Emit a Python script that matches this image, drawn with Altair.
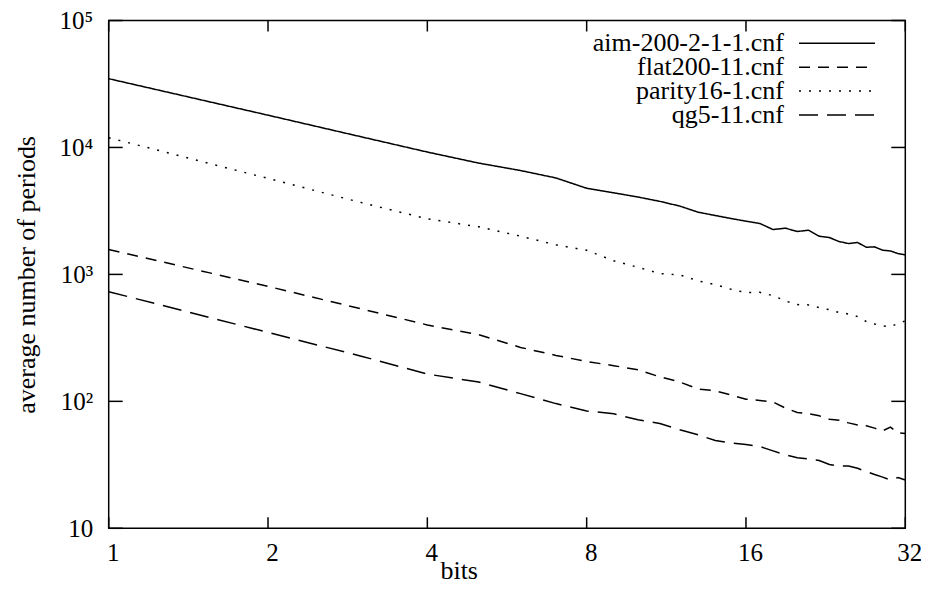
import altair as alt
import pandas as pd

# ---- data ----
bits = [1, 2, 3, 4, 5, 6, 7, 8, 9, 10, 11, 12, 13, 14, 15, 16,
        17, 18, 19, 20, 21, 22, 23, 24, 25, 26, 27, 28, 29, 30, 31, 32]

series_names = ["aim-200-2-1-1.cnf", "flat200-11.cnf", "parity16-1.cnf", "qg5-11.cnf"]

aim = [34800, 17950, 12130, 9200, 7530, 6580, 5750, 4770, 4390, 4070, 3760, 3450,
       3090, 2910, 2755, 2625, 2517, 2256, 2312, 2177, 2230, 2000, 1951, 1815,
       1750, 1783, 1637, 1648, 1550, 1530, 1458, 1425]
flat = [1571, 805, 535, 400, 335, 266, 230, 206, 191, 177, 156, 142,
        125, 121, 112, 104, 101.6, 99, 88.5, 81.7, 79.8, 76.9, 72.4, 71.1,
        67.7, 65, 64.2, 61.5, 58.6, 62.7, 56.5, 55.7]
parity = [11940, 5700, 3680, 2742, 2371, 2000, 1710, 1549, 1280, 1138, 1014, 991,
          889, 831, 763, 718, 722, 680, 618, 578, 575, 547, 527, 500,
          488, 465, 426, 407, 394, 387, 411, 430]
qg = [731, 349, 227, 164, 142, 115, 96, 84, 79.8, 71.5, 66.8, 59.7,
      54.5, 49.1, 46.9, 45.7, 44.1, 40.7, 37.9, 35.9, 35.2, 34.2, 31.8, 31.0,
      31.0, 29.7, 28.0, 26.5, 25.3, 24.0, 25.1, 24.0]

x_ticks = [1, 2, 4, 8, 16, 32]
y_ticks = [10, 100, 1000, 10000, 100000]
y_tick_labels = ["10", "10²", "10³", "10⁴", "10⁵"]

# ---- build tables ----
rows = []
for name, vals in zip(series_names, [aim, flat, parity, qg]):
    for b, v in zip(bits, vals):
        rows.append({"bits": b, "value": v, "series": name})
df = pd.DataFrame(rows)
xt_df = pd.DataFrame({"bits": x_ticks})
yt_df = pd.DataFrame({"value": y_ticks})
leg_df = pd.DataFrame({"label": series_names})

W, H = 796.6, 507.8
FONT = "Liberation Serif"

xscale = alt.Scale(type="log", base=2, domain=[1, 32], nice=False)
yscale = alt.Scale(type="log", domain=[10, 100000], nice=False)
dash_scale = alt.Scale(domain=series_names,
                       range=[[1, 0], [11, 8], [2, 8], [19, 9]])

label_expr = " : ".join(
    f"datum.value == {v} ? '{t}'" for v, t in zip(y_ticks, y_tick_labels)
) + " : ''"

x_axis = alt.Axis(values=x_ticks, format="d", title="bits",
                  labelFont=FONT, labelFontSize=25, labelColor="black",
                  labelPadding=12, labelOffset=4, labelFlush=False,
                  labelOverlap=False, ticks=False, domain=False, grid=False,
                  titleFont=FONT, titleFontSize=26, titleFontWeight="normal",
                  titleColor="black", titleX=350, titleY=50,
                  titleAlign="center", titleBaseline="alphabetic")
y_axis = alt.Axis(values=y_ticks, labelExpr=label_expr,
                  labelFont=FONT, labelFontSize=25, labelColor="black",
                  labelPadding=16, labelFlush=False, labelOverlap=False,
                  ticks=False, domain=False, grid=False,
                  title="average number of periods",
                  titleFont=FONT, titleFontSize=26, titleFontWeight="normal",
                  titleColor="black", titleX=-74.5, titleY=H / 2,
                  titleAngle=270, titleAlign="center",
                  titleBaseline="alphabetic")

X = alt.X("bits:Q", scale=xscale, axis=x_axis)
Y = alt.Y("value:Q", scale=yscale, axis=y_axis)

lines = alt.Chart(df).mark_line(color="black", strokeWidth=1.5, strokeCap="butt").encode(
    x=X, y=Y,
    strokeDash=alt.StrokeDash("series:N", scale=dash_scale, legend=None),
    detail="series:N",
)

tick_style = dict(color="black", strokeWidth=1.5)
left_ticks = alt.Chart(yt_df).mark_rule(**tick_style).encode(
    y=Y, x=alt.value(0), x2=alt.value(14))
right_ticks = alt.Chart(yt_df).mark_rule(**tick_style).encode(
    y=Y, x=alt.value(W - 14), x2=alt.value(W))
bottom_ticks = alt.Chart(xt_df).mark_rule(**tick_style).encode(
    x=X, y=alt.value(H), y2=alt.value(H - 11))
top_ticks = alt.Chart(xt_df).mark_rule(**tick_style).encode(
    x=X, y=alt.value(0), y2=alt.value(11))

main = alt.layer(lines, left_ticks, right_ticks, bottom_ticks, top_ticks)

leg_y = alt.Y("label:N", scale=alt.Scale(type="point", domain=series_names,
                                         range=[22.8, 94.5], padding=0), axis=None)
leg_text = alt.Chart(leg_df).mark_text(
    align="right", baseline="middle", font=FONT, fontSize=26, color="black"
).encode(y=leg_y, x=alt.value(675.3), text="label:N")
leg_lines = alt.Chart(leg_df).mark_rule(color="black", strokeWidth=1.5, strokeCap="butt").encode(
    y=leg_y, x=alt.value(690.3), x2=alt.value(766.3),
    strokeDash=alt.StrokeDash("label:N", scale=dash_scale, legend=None))
legend = alt.layer(leg_text, leg_lines)

chart = alt.layer(main, legend).resolve_scale(y="independent").properties(
    width=W, height=H,
    autosize=alt.AutoSizeParams(type="none"),
    padding={"left": 100.7, "top": 12.5, "right": 15.5, "bottom": 56.5},
    background="white",
).configure_view(stroke="black", strokeWidth=1.5)

chart.save("out.html", embed_options={"renderer": "svg", "actions": False})
